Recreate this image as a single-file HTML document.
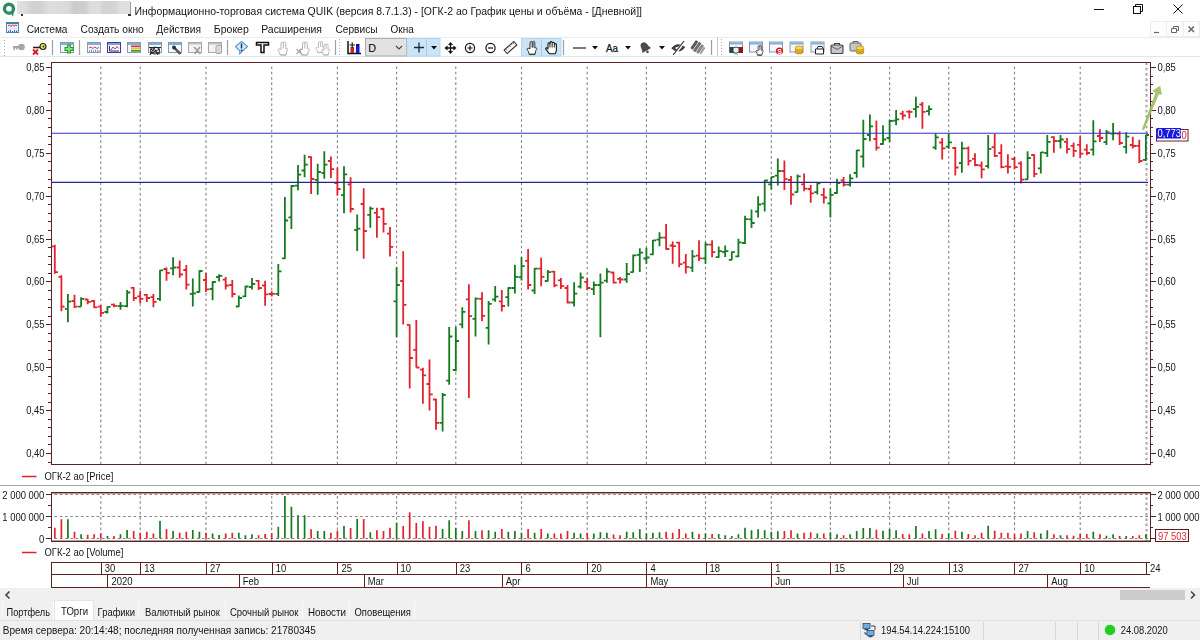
<!DOCTYPE html>
<html><head><meta charset="utf-8"><title>QUIK</title>
<style>
html,body{margin:0;padding:0;}
body{width:1200px;height:640px;overflow:hidden;background:#fff;position:relative;font-family:"Liberation Sans",sans-serif;color:#000;}
.abs{position:absolute;}
.t{position:absolute;white-space:nowrap;font-size:12px;line-height:14px;color:#111;}
.menu span{position:absolute;top:23px;font-size:12.5px;line-height:14px;white-space:nowrap;color:#111;}
.tab{position:absolute;top:601px;height:19px;font-size:11.5px;line-height:19px;text-align:center;color:#111;border-right:1px solid #fafafa;box-sizing:border-box;white-space:nowrap;}
.sep{position:absolute;top:41px;width:1px;height:14px;background:#b8b8b8;}
.sdiv{position:absolute;top:622px;width:1px;height:18px;background:#d8d8d8;}
</style></head><body>
<!-- title bar -->
<svg class="abs" style="left:0;top:0" width="20" height="20" viewBox="0 0 20 20"><circle cx="9" cy="8.7" r="4.5" fill="#fff" stroke="#2a8c63" stroke-width="3.4"/><path d="M10.5 12.8L12.9 16.8L14.2 10.5Z" fill="#2a8c63"/></svg>
<div class="abs" style="left:17px;top:1px;width:114px;height:13px;background:linear-gradient(90deg,#e2e2e2 0%,#dcdcdc 8%,#d0d0d0 14%,#d2d2d2 22%,#dedede 28%,#dadada 45%,#cccccc 50%,#cecece 60%,#dcdcdc 64%,#dedede 72%,#d2d2d2 76%,#d4d4d4 86%,#dedede 90%,#e0e0e0 100%);"></div>
<div class="abs" style="left:21px;top:14px;width:2px;height:2px;background:#334"></div>
<div class="abs" style="left:130px;top:2px;width:1px;height:13px;background:#9a9ab4"></div>
<div class="abs" style="left:128px;top:14px;width:3px;height:2px;background:#334"></div>
<svg class="abs" style="left:1080px;top:0" width="120" height="20" viewBox="0 0 120 20" fill="none" stroke="#111" stroke-width="1">
<path d="M14 9.5H24"/><rect x="53.5" y="6.5" width="7" height="7"/><path d="M55.5 6.5V4.5H62.5V11.5H60.5"/><path d="M93.5 4.5L102.5 13.5M102.5 4.5L93.5 13.5"/></svg>
<!-- menu bar -->
<svg class="abs" style="left:6px;top:22px" width="14" height="12" viewBox="0 0 14 12"><rect x="0.5" y="0.5" width="12" height="10" fill="#f2f6fb" stroke="#4a86b4"/><rect x="0.5" y="0.5" width="12" height="1.6" fill="#3f7fb0"/><path d="M2 4L3.5 3.2L5 4.4L6.5 3L8 4.2L9.5 3.2L11 3.8" stroke="#d02030" fill="none" stroke-width="1"/><path d="M2 6.5H11" stroke="#b8c8dc" stroke-width="0.6"/><path d="M2.5 10V8.5M4.5 10V8M6.5 10V9M8.5 10V8M10.5 10V8.5" stroke="#3a68b8" stroke-width="1.1"/></svg>
<div class="abs" style="left:1150px;top:21px;width:50px;height:16px;background:#fdfdfd;border:1px solid #ececec;box-sizing:border-box"></div>
<svg class="abs" style="left:1150px;top:21px" width="50" height="16" viewBox="0 0 50 16" fill="none" stroke="#5a6a78" stroke-width="1.2"><path d="M4 11.5H9"/><path d="M21.5 7.5H26.5V11.5H21.5ZM23.5 7.5V5.5H28.5V9.5H26.5" stroke-width="1"/><path d="M38.5 5.5L44 11M44 5.5L38.5 11" stroke-width="1.5"/><path d="M16.5 1V15M33.5 1V15" stroke="#ececec" stroke-width="1"/></svg>
<div class="abs" style="left:0;top:37px;width:1200px;height:1px;background:#e9edf1"></div>
<div class="abs" style="left:0;top:56px;width:1200px;height:1px;background:#dfe7ee"></div>
<svg class="abs" style="left:0;top:36px" width="1200" height="24" viewBox="0 36 1200 24" font-family="Liberation Sans, sans-serif">
<defs>
<g id="win"><rect x="0.5" y="0.5" width="13" height="10" fill="#f4f7fb" stroke="#8a98ac"/><rect x="1" y="1" width="12" height="2" fill="#7fb0dc"/></g>
<g id="wing"><rect x="0.5" y="0.5" width="13" height="10" fill="#f4f4f4" stroke="#a8a8a8"/><rect x="1" y="1" width="12" height="1.6" fill="#c4c4c4"/></g>
<g id="hand" fill="#fff" stroke-width="1" stroke-linejoin="round"><path d="M3.5 8V2.2Q3.5 0.7 4.7 0.7Q5.9 0.7 5.9 2.2V1.8Q5.9 0.5 7.1 0.5Q8.3 0.5 8.3 2V7.2Q9.8 6.4 10.3 7.6Q10.6 8.6 9.3 9.6L8.6 13.5H2.6L2 10.6Q0.4 9.2 0.6 8Q1 6.8 2.4 7.6Z"/><path d="M5.9 2V7M2.8 13.5H8.4"/></g>
<g id="coins"><ellipse cx="4" cy="6" rx="4" ry="2" fill="#e8b020" stroke="#a87808" stroke-width="0.6"/><ellipse cx="4" cy="4" rx="4" ry="2" fill="#f0c030" stroke="#a87808" stroke-width="0.6"/><ellipse cx="4" cy="2" rx="4" ry="2" fill="#f8d850" stroke="#a87808" stroke-width="0.6"/></g>
</defs>
<!-- grips -->
<path d="M4.5 40V56" stroke="#b0b0b0" stroke-width="1" stroke-dasharray="1 2"/>
<path d="M339.5 39V56M721.5 39V56" stroke="#b0b0b0" stroke-width="1" stroke-dasharray="1 2"/>
<!-- separators -->
<path d="M52.5 40V55M79.5 40V55M227.5 40V55M335.5 40V55M563.5 40V55M711.5 40V55" stroke="#a0a0a0" stroke-width="1.2"/>
<path d="M717.5 37V56" stroke="#c8c8c8" stroke-width="1"/>
<!-- gray key -->
<g fill="#a6a6a6"><circle cx="21.5" cy="47" r="3.3"/><rect x="13" y="46" width="7" height="2.2"/><rect x="13.5" y="48" width="1.5" height="2"/><rect x="16" y="48" width="1.5" height="1.6"/></g>
<!-- x key -->
<g><circle cx="43" cy="46.5" r="3" fill="#f2e85a" stroke="#222" stroke-width="1.1"/><circle cx="43.5" cy="46.5" r="0.9" fill="#222"/><path d="M33 47.5H40" stroke="#222" stroke-width="1.6"/><path d="M33 49.5L38 54.5M38 49.5L33 54.5" stroke="#d81818" stroke-width="1.8"/></g>
<!-- window + green plus -->
<g transform="translate(60,42)"><use href="#win"/><path d="M9 2.5V11.5M4.5 7H13.5" stroke="#239a23" stroke-width="3.8"/><path d="M9 3.5V10.5M5.5 7H12.5" stroke="#7ee66a" stroke-width="1.8"/></g>
<!-- icons 1-3 -->
<g transform="translate(87,42)"><use href="#win"/><path d="M2 6L4 5L6 6.5L8 5L10 6.5L12 5.5" stroke="#d02828" fill="none" stroke-width="0.9"/><path d="M2.5 10V8M4.5 10V7.5M6.5 10V8.5M8.5 10V7.5M10.5 10V8M12 10V8.5" stroke="#6f9ad0" stroke-width="1"/></g>
<g transform="translate(107,42)"><rect x="0.5" y="0.5" width="13" height="10" fill="#f4f7fb" stroke="#3a3aa0"/><rect x="1" y="1" width="12" height="2" fill="#7fa0dc"/><path d="M2.5 4V9H12" stroke="#2a2a90" fill="none"/><path d="M4 8L6 5L8 7L10 4.5L11.5 6.5" stroke="#d02828" fill="none" stroke-width="0.9"/></g>
<g transform="translate(127,42)"><use href="#win"/><rect x="4" y="3.5" width="9" height="1.7" fill="#d83030"/><rect x="4" y="5.8" width="9" height="1.7" fill="#e8c020"/><rect x="4" y="8" width="9" height="1.7" fill="#38a038"/></g>
<!-- icon 4 scribble -->
<g transform="translate(148,42)"><use href="#win"/><path d="M1 5.5H13M2 13L6 6L10 13M2 7L12 12M12 7L2 12M3 6.5Q7 3.5 11 6.5Q12 9 11 11Q7 13 3 11Q2 9 3 6.5" stroke="#222" fill="none" stroke-width="1"/></g>
<!-- icon 5 wrench -->
<g transform="translate(168,42)"><use href="#win"/><path d="M6 5.5L12.5 12" stroke="#333" stroke-width="2.4"/><circle cx="6" cy="5.5" r="2" fill="#333"/><path d="M7.5 7L12.5 12" stroke="#999" stroke-width="0.7"/></g>
<!-- icon 6 gray -->
<g transform="translate(188,42)"><use href="#wing"/><path d="M6 5L12.5 12M12 5L6.5 12" stroke="#a0a0a0" stroke-width="1.8"/></g>
<!-- icon 7 gray db -->
<g transform="translate(208,42)"><use href="#wing"/><rect x="8" y="3.5" width="5.5" height="8" rx="1.5" fill="#e8e8e8" stroke="#a0a0a0"/><path d="M9.5 6H12M9.5 8H12M9.5 10H12" stroke="#b0b0b0" stroke-width="0.8"/></g>
<!-- info bubble -->
<g><path d="M241.5 41.5L247.5 46.5L241.5 52L239.5 54L239.8 51L235.5 46.5Z" fill="#d8ecfa" stroke="#5a9ad0" stroke-width="1.1" stroke-linejoin="round"/><path d="M241.5 43.5V48.5" stroke="#1a3a6a" stroke-width="1.5"/><circle cx="241.5" cy="50.3" r="0.9" fill="#1a3a6a"/></g>
<!-- T -->
<path d="M256.5 42.5H268.5V45H264V52.5H261V45H256.5Z" fill="#fff" stroke="#111" stroke-width="1.5"/>
<!-- gray hands -->
<g transform="translate(277.5,41.5)" stroke="#b4b4b4"><use href="#hand"/></g>
<g transform="translate(299,41.5)" stroke="#b4b4b4"><use href="#hand"/></g>
<path d="M296.5 49L301.5 54M301.5 49L296.5 54" stroke="#a8a8a8" stroke-width="1.4"/>
<g transform="translate(315.5,41) scale(0.85)" stroke="#b4b4b4"><use href="#hand"/></g>
<g transform="translate(321,43.5) scale(0.85)" stroke="#b4b4b4"><use href="#hand"/></g>
<!-- chart icon -->
<g><path d="M348 41V53.5H361" stroke="#111" fill="none" stroke-width="1.5"/><rect x="350.5" y="47" width="3.5" height="6" fill="#d02020"/><rect x="356" y="44" width="3.5" height="9" fill="#1818d0"/><path d="M349.5 45H355M352.2 42.3V47.7" stroke="#111" stroke-width="1.1"/><path d="M356 45H359" stroke="#111" stroke-width="1"/></g>
<!-- dropdown -->
<rect x="365.5" y="38.5" width="41" height="17.5" fill="#e1e1e1" stroke="#adadad"/>
<text x="368.3" y="51.5" font-size="10.8" fill="#000">D</text>
<path d="M396 46L399 49L402 46" stroke="#444" fill="none" stroke-width="1.1"/>
<!-- plus button -->
<rect x="407" y="38.5" width="33" height="17.5" fill="#cce4f7" stroke="#b4d6f2" stroke-width="1"/>
<path d="M426.5 39V56" stroke="#a8cce8" stroke-width="1"/>
<path d="M414 47.5H424M419 42.5V52.5" stroke="#1a2a3a" stroke-width="1.3"/>
<path d="M431 46H437L434 49.5Z" fill="#111"/>
<!-- move icon -->
<g stroke="#111" stroke-width="1.3" fill="#111"><path d="M450.5 44V52M446.5 48H454.5" fill="none"/><path d="M450.5 42.3L452.5 44.8H448.5ZM450.5 53.7L452.5 51.2H448.5ZM444.8 48L447.3 46V50ZM456.2 48L453.7 46V50Z" stroke-width="0.6"/></g>
<!-- zoom +/- -->
<g stroke="#111" fill="none" stroke-width="1.2"><circle cx="470" cy="48" r="4.6"/><path d="M467.5 48H472.5M470 45.5V50.5"/><circle cx="490.5" cy="48" r="4.6"/><path d="M488 48H493"/></g>
<!-- ruler -->
<g transform="translate(510.5,47.5) rotate(-42)"><rect x="-6.5" y="-2.3" width="13" height="4.6" fill="#fff" stroke="#333" stroke-width="1.1"/><path d="M-4.5 -2.5V0M-2 -2.5V-0.5M0.5 -2.5V0M3 -2.5V-0.5M5 -2.5V0" stroke="#555" stroke-width="0.7"/></g>
<!-- highlighted hands -->
<rect x="521.5" y="38.5" width="39.5" height="17.5" fill="#cce4f7" stroke="#b4d6f2" stroke-width="1"/>
<path d="M541.5 39V56" stroke="#a8cce8" stroke-width="1"/>
<g transform="translate(526.5,40.8)" stroke="#333"><use href="#hand"/><path d="M4.3 1.5V6.5M7 1.5V6.5" stroke="#888" stroke-width="1.4"/></g>
<g transform="translate(545,41)" stroke="#111" fill="#fff" stroke-width="1.1" stroke-linejoin="round"><path d="M3 8V3Q3 1.8 4 1.8Q5 1.8 5 3V1.8Q5 0.6 6.1 0.6Q7.2 0.6 7.2 1.8V2.2Q7.2 1.2 8.3 1.2Q9.4 1.2 9.4 2.4V3.4Q9.4 2.6 10.4 2.6Q11.4 2.6 11.4 3.8V9Q11.4 11 10 12.8H4.5L0.8 8.2Q0.5 7 1.5 6.8Q2.3 6.8 3 8Z"/><path d="M5 2.5V6.5M7.2 2.5V6.5M9.4 3.5V6.5" stroke="#555" stroke-width="1.3"/></g>
<!-- line style -->
<path d="M573 48H586" stroke="#333" stroke-width="1.3"/>
<path d="M592 46H598L595 49.5Z" fill="#111"/>
<text x="606" y="51.6" font-size="10.6" fill="#111" stroke="#111" stroke-width="0.25" textLength="12" lengthAdjust="spacingAndGlyphs">Aa</text>
<path d="M625 46H631L628 49.5Z" fill="#111"/>
<!-- bell -->
<g transform="translate(645,47.5) rotate(-30)" fill="#4a4a4a"><path d="M-5 3.5Q-3.5 1 -3.5 -2Q-3 -5.5 0 -5.5Q3 -5.5 3.5 -2Q3.5 1 5 3.5Z"/><circle cx="0" cy="5" r="1.3"/></g>
<path d="M659 46H665L662 49.5Z" fill="#111"/>
<!-- eye slash -->
<g><path d="M671.3 48.2Q677.5 41 685.2 47Q679 55.5 671.3 48.2Z" fill="#3a3a3a"/><path d="M674.8 48Q678 45.2 681.8 47.3Q678.5 51 674.8 48Z" fill="#fff"/><path d="M684.8 40.8L674 55.2" stroke="#fff" stroke-width="2.6"/><path d="M684 41.2L673.2 54.8" stroke="#3a3a3a" stroke-width="1.1"/></g>
<!-- layers -->
<g transform="translate(698,47.5) rotate(35)" fill="#5a5a5a"><rect x="-6" y="-5" width="3" height="10" rx="0.8"/><rect x="-2.5" y="-5.5" width="3" height="11" rx="0.8" fill="#707070"/><rect x="1" y="-5" width="3" height="10" rx="0.8" fill="#888"/><rect x="4.3" y="-4" width="2.2" height="8" rx="0.8" fill="#a0a0a0"/></g>
<!-- handshake window -->
<g transform="translate(729,41.5)"><use href="#win"/><path d="M0.5 5.5H4.5V11.5H0.5Z" fill="#1a4a5a"/><path d="M9.5 5.5H14V11.5H9.5Z" fill="#8a1a1a"/><path d="M4 6.5Q7 4.5 10 6.5L10 10.5Q7 13 4 10.5Z" fill="#f0f0f0" stroke="#333" stroke-width="0.9"/><path d="M5 12L6 13M7.5 12.3L8.5 13.3" stroke="#333" stroke-width="0.8"/></g>
<!-- window + hand -->
<g transform="translate(749,41.5)"><use href="#win"/><g transform="translate(6.5,3.5) scale(0.750)" stroke="#222"><use href="#hand"/></g></g>
<!-- window + red circle -->
<g transform="translate(769,41.5)"><use href="#win"/><circle cx="10.5" cy="9.5" r="3.6" fill="#d81828"/><text x="8.5" y="12" font-size="6.5" fill="#fff" font-weight="bold">S</text></g>
<!-- window + coins -->
<g transform="translate(789.5,41.5)"><use href="#win"/><g transform="translate(5.5,4.5)"><use href="#coins"/></g></g>
<!-- window + box -->
<g transform="translate(810.5,41.5)"><use href="#win"/><path d="M5 7.5H13V12.5H5ZM6.5 7.5L7.5 5H11.5L13 7.5" fill="#fff" stroke="#222" stroke-width="1" stroke-linejoin="round"/></g>
<!-- briefcase -->
<g transform="translate(830.5,43)"><rect x="0.5" y="2" width="12" height="8.5" rx="1" fill="#c4c8cc" stroke="#444" stroke-width="1.1"/><path d="M4 2V0.5H9V2" fill="none" stroke="#444" stroke-width="1.1"/><path d="M0.5 3L6.5 6.5L12.5 3" fill="none" stroke="#555" stroke-width="0.9"/></g>
<!-- briefcase + coins -->
<g transform="translate(849.5,41)"><rect x="0.5" y="2" width="11" height="8" rx="1" fill="#c4c8cc" stroke="#666" stroke-width="1"/><path d="M3.5 2V0.5H8.5V2" fill="none" stroke="#666" stroke-width="1"/><g transform="translate(6.5,5)"><use href="#coins"/></g></g>
</svg>
<svg width="1200" height="640" viewBox="0 0 1200 640" style="position:absolute;left:0;top:0;will-change:transform;opacity:0.999" font-family="Liberation Sans, sans-serif">
<rect x="0" y="485" width="1200" height="1" fill="#a8a8a8"/>
<path d="M100.8 66.5V464.5 M140.2 66.5V464.5 M206.0 66.5V464.5 M271.7 66.5V464.5 M337.4 66.5V464.5 M396.6 66.5V464.5 M455.8 66.5V464.5 M521.5 66.5V464.5 M587.2 66.5V464.5 M646.4 66.5V464.5 M705.5 66.5V464.5 M771.3 66.5V464.5 M830.4 66.5V464.5 M889.6 66.5V464.5 M948.7 66.5V464.5 M1014.5 66.5V464.5 M1080.2 66.5V464.5" stroke="#848484" stroke-width="1.1" stroke-dasharray="2.6 2.67" fill="none"/>
<path d="M1146.5 62.5V464.5M1146.5 492V541" stroke="#a6a6a6" stroke-width="2" stroke-dasharray="2.6 2.67" fill="none"/>
<path d="M100.8 496V541.5 M140.2 496V541.5 M206.0 496V541.5 M271.7 496V541.5 M337.4 496V541.5 M396.6 496V541.5 M455.8 496V541.5 M521.5 496V541.5 M587.2 496V541.5 M646.4 496V541.5 M705.5 496V541.5 M771.3 496V541.5 M830.4 496V541.5 M889.6 496V541.5 M948.7 496V541.5 M1014.5 496V541.5 M1080.2 496V541.5 M54.5 494.5H1150.5 M54.5 516.5H1150.5 M54.5 538.5H1150.5" stroke="#848484" stroke-width="1.1" stroke-dasharray="2.6 2.67" fill="none"/>
<rect x="51.5" y="62.5" width="1099.0" height="402.0" fill="none" stroke="#5a2222" stroke-width="1" shape-rendering="crispEdges"/>
<rect x="51.5" y="492.5" width="1099.0" height="49" fill="none" stroke="#5a2222" stroke-width="1" shape-rendering="crispEdges"/>
<path d="M51.5 493.5H1150.5M51.5 540.5H1150.5" stroke="#5a2222" stroke-width="1" opacity="0.45" shape-rendering="crispEdges"/>
<path d="M45.5 67.5H51.5M1150.5 67.5H1155.5 M48.0 76.5H51.5M1150.5 76.5H1152.5 M48.0 84.5H51.5M1150.5 84.5H1152.5 M48.0 93.5H51.5M1150.5 93.5H1152.5 M48.0 101.5H51.5M1150.5 101.5H1152.5 M45.5 110.5H51.5M1150.5 110.5H1155.5 M48.0 118.5H51.5M1150.5 118.5H1152.5 M48.0 127.5H51.5M1150.5 127.5H1152.5 M48.0 136.5H51.5M1150.5 136.5H1152.5 M48.0 144.5H51.5M1150.5 144.5H1152.5 M45.5 153.5H51.5M1150.5 153.5H1155.5 M48.0 161.5H51.5M1150.5 161.5H1152.5 M48.0 170.5H51.5M1150.5 170.5H1152.5 M48.0 179.5H51.5M1150.5 179.5H1152.5 M48.0 187.5H51.5M1150.5 187.5H1152.5 M45.5 196.5H51.5M1150.5 196.5H1155.5 M48.0 204.5H51.5M1150.5 204.5H1152.5 M48.0 213.5H51.5M1150.5 213.5H1152.5 M48.0 221.5H51.5M1150.5 221.5H1152.5 M48.0 230.5H51.5M1150.5 230.5H1152.5 M45.5 239.5H51.5M1150.5 239.5H1155.5 M48.0 247.5H51.5M1150.5 247.5H1152.5 M48.0 256.5H51.5M1150.5 256.5H1152.5 M48.0 264.5H51.5M1150.5 264.5H1152.5 M48.0 273.5H51.5M1150.5 273.5H1152.5 M45.5 281.5H51.5M1150.5 281.5H1155.5 M48.0 290.5H51.5M1150.5 290.5H1152.5 M48.0 299.5H51.5M1150.5 299.5H1152.5 M48.0 307.5H51.5M1150.5 307.5H1152.5 M48.0 316.5H51.5M1150.5 316.5H1152.5 M45.5 324.5H51.5M1150.5 324.5H1155.5 M48.0 333.5H51.5M1150.5 333.5H1152.5 M48.0 341.5H51.5M1150.5 341.5H1152.5 M48.0 350.5H51.5M1150.5 350.5H1152.5 M48.0 359.5H51.5M1150.5 359.5H1152.5 M45.5 367.5H51.5M1150.5 367.5H1155.5 M48.0 376.5H51.5M1150.5 376.5H1152.5 M48.0 384.5H51.5M1150.5 384.5H1152.5 M48.0 393.5H51.5M1150.5 393.5H1152.5 M48.0 402.5H51.5M1150.5 402.5H1152.5 M45.5 410.5H51.5M1150.5 410.5H1155.5 M48.0 419.5H51.5M1150.5 419.5H1152.5 M48.0 427.5H51.5M1150.5 427.5H1152.5 M48.0 436.5H51.5M1150.5 436.5H1152.5 M48.0 444.5H51.5M1150.5 444.5H1152.5 M45.5 453.5H51.5M1150.5 453.5H1155.5 M48.0 462.5H51.5M1150.5 462.5H1152.5 M45.5 494.5H51.5M1150.5 494.5H1155.5 M48.0 505.5H51.5M1150.5 505.5H1152.5 M45.5 516.5H51.5M1150.5 516.5H1155.5 M48.0 527.5H51.5M1150.5 527.5H1152.5 M45.5 538.5H51.5M1150.5 538.5H1155.5" stroke="#5a2222" stroke-width="1" fill="none" shape-rendering="crispEdges"/>
<text transform="translate(44.5,71.0) scale(0.9,1)" font-size="10.5" text-anchor="end" fill="#151515">0,85</text>
<text transform="translate(1157.5,71.0) scale(0.9,1)" font-size="10.5" text-anchor="start" fill="#151515">0,85</text>
<text transform="translate(44.5,113.9) scale(0.9,1)" font-size="10.5" text-anchor="end" fill="#151515">0,80</text>
<text transform="translate(1157.5,113.9) scale(0.9,1)" font-size="10.5" text-anchor="start" fill="#151515">0,80</text>
<text transform="translate(44.5,156.8) scale(0.9,1)" font-size="10.5" text-anchor="end" fill="#151515">0,75</text>
<text transform="translate(1157.5,156.8) scale(0.9,1)" font-size="10.5" text-anchor="start" fill="#151515">0,75</text>
<text transform="translate(44.5,199.7) scale(0.9,1)" font-size="10.5" text-anchor="end" fill="#151515">0,70</text>
<text transform="translate(1157.5,199.7) scale(0.9,1)" font-size="10.5" text-anchor="start" fill="#151515">0,70</text>
<text transform="translate(44.5,242.6) scale(0.9,1)" font-size="10.5" text-anchor="end" fill="#151515">0,65</text>
<text transform="translate(1157.5,242.6) scale(0.9,1)" font-size="10.5" text-anchor="start" fill="#151515">0,65</text>
<text transform="translate(44.5,285.4) scale(0.9,1)" font-size="10.5" text-anchor="end" fill="#151515">0,60</text>
<text transform="translate(1157.5,285.4) scale(0.9,1)" font-size="10.5" text-anchor="start" fill="#151515">0,60</text>
<text transform="translate(44.5,328.3) scale(0.9,1)" font-size="10.5" text-anchor="end" fill="#151515">0,55</text>
<text transform="translate(1157.5,328.3) scale(0.9,1)" font-size="10.5" text-anchor="start" fill="#151515">0,55</text>
<text transform="translate(44.5,371.2) scale(0.9,1)" font-size="10.5" text-anchor="end" fill="#151515">0,50</text>
<text transform="translate(1157.5,371.2) scale(0.9,1)" font-size="10.5" text-anchor="start" fill="#151515">0,50</text>
<text transform="translate(44.5,414.1) scale(0.9,1)" font-size="10.5" text-anchor="end" fill="#151515">0,45</text>
<text transform="translate(1157.5,414.1) scale(0.9,1)" font-size="10.5" text-anchor="start" fill="#151515">0,45</text>
<text transform="translate(44.5,457.0) scale(0.9,1)" font-size="10.5" text-anchor="end" fill="#151515">0,40</text>
<text transform="translate(1157.5,457.0) scale(0.9,1)" font-size="10.5" text-anchor="start" fill="#151515">0,40</text>
<text transform="translate(44.3,498.5) scale(0.9,1)" font-size="10.5" text-anchor="end" fill="#151515">2 000 000</text>
<text transform="translate(44.3,520.5) scale(0.9,1)" font-size="10.5" text-anchor="end" fill="#151515">1 000 000</text>
<text transform="translate(44.3,542.5) scale(0.9,1)" font-size="10.5" text-anchor="end" fill="#151515">0</text>
<text transform="translate(1157.5,498.5) scale(0.9,1)" font-size="10.5" text-anchor="start" fill="#151515">2 000 000</text>
<text transform="translate(1157.5,520.5) scale(0.9,1)" font-size="10.5" text-anchor="start" fill="#151515">1 000 000</text>
<path d="M54.8 244.8V273.8M51.8 246.4H54.8M54.8 272.2H58.0 M61.4 275.3V311.2M58.4 276.9H61.4M61.4 306.6H64.6 M74.5 294.8V308.0M71.5 301.0H74.5M74.5 306.6H77.7 M87.7 298.8V304.2M84.7 299.5H87.7M87.7 301.9H90.9 M94.2 300.3V308.0M91.2 301.0H94.2M94.2 307.3H97.4 M100.8 305.0V316.7M97.8 306.6H100.8M100.8 312.8H104.0 M114.0 303.4V307.3M111.0 304.7H114.0M114.0 305.8H117.2 M133.7 287.0V301.0M130.7 287.8H133.7M133.7 298.0H136.9 M140.2 291.0V303.4M137.2 296.4H140.2M140.2 298.8H143.4 M146.8 294.0V301.9M143.8 294.8H146.8M146.8 298.0H150.0 M153.4 294.0V307.3M150.4 297.2H153.4M153.4 301.9H156.6 M166.5 267.5V280.8M163.5 269.0H166.5M166.5 273.0H169.7 M179.7 260.5V277.7M176.7 267.5H179.7M179.7 274.5H182.9 M186.3 265.0V289.4M183.3 270.0H186.3M186.3 284.7H189.5 M206.0 273.0V292.0M203.0 280.0H206.0M206.0 289.4H209.2 M225.7 277.0V289.4M222.7 279.7H225.7M225.7 285.5H228.9 M232.3 280.0V297.5M229.3 285.0H232.3M232.3 294.0H235.5 M258.6 280.0V290.0M255.6 280.8H258.6M258.6 288.0H261.8 M265.1 280.8V305.8M262.1 285.5H265.1M265.1 294.4H268.3 M271.7 291.2V296.4M268.7 294.0H271.7M271.7 293.8H274.9 M311.1 156.4V194.0M308.1 157.0H311.1M311.1 179.0H314.3 M330.9 156.4V178.0M327.9 161.0H330.9M330.9 169.2H334.1 M337.4 167.5V195.4M334.4 183.0H337.4M337.4 189.0H340.6 M350.6 177.3V212.5M347.6 184.4H350.6M350.6 209.0H353.8 M363.7 188.3V258.8M360.7 204.0H363.7M363.7 231.0H366.9 M376.9 207.8V237.8M373.9 212.8H376.9M376.9 217.2H380.1 M383.5 207.8V232.5M380.5 209.0H383.5M383.5 223.8H386.7 M390.0 226.9V256.4M387.0 233.6H390.0M390.0 246.9H393.2 M403.2 251.2V324.4M400.2 281.0H403.2M403.2 304.8H406.4 M409.7 324.4V388.6M406.7 324.8H409.7M409.7 358.0H412.9 M416.3 320.0V367.5M413.3 349.8H416.3M416.3 367.5H419.5 M422.9 367.8V403.8M419.9 369.7H422.9M422.9 375.3H426.1 M429.5 359.5V410.5M426.5 384.0H429.5M429.5 394.4H432.7 M436.0 398.8V429.8M433.0 399.5H436.0M436.0 422.8H439.2 M468.9 284.2V398.0M465.9 299.4H468.9M468.9 316.2H472.1 M482.0 292.3V321.2M479.0 298.9H482.0M482.0 315.8H485.2 M501.8 290.0V311.6M498.8 301.4H501.8M501.8 306.0H505.0 M528.1 249.0V289.4M525.1 260.8H528.1M528.1 285.0H531.3 M541.2 257.7V286.2M538.2 268.6H541.2M541.2 276.9H544.4 M554.3 271.0V287.3M551.3 271.7H554.3M554.3 285.3H557.5 M560.9 278.0V289.0M557.9 280.3H560.9M560.9 286.2H564.1 M567.5 285.0V303.4M564.5 288.0H567.5M567.5 302.5H570.7 M587.2 278.0V290.0M584.2 281.9H587.2M587.2 288.0H590.4 M613.5 271.7V283.4M610.5 272.5H613.5M613.5 282.7H616.7 M620.1 276.9V283.4M617.1 278.8H620.1M620.1 279.5H623.3 M666.1 224.0V249.7M663.1 237.7H666.1M666.1 249.0H669.3 M672.7 241.6V263.8M669.7 245.5H672.7M672.7 246.2H675.9 M679.2 241.9V267.3M676.2 242.7H679.2M679.2 264.2H682.4 M685.8 254.0V273.6M682.8 262.7H685.8M685.8 266.9H689.0 M699.0 240.3V261.0M696.0 255.6H699.0M699.0 258.3H702.2 M712.1 240.3V257.2M709.1 244.7H712.1M712.1 252.2H715.3 M784.4 160.5V190.0M781.4 171.0H784.4M784.4 179.2H787.6 M791.0 176.0V204.7M788.0 180.0H791.0M791.0 194.5H794.2 M804.1 173.4V191.2M801.1 184.4H804.1M804.1 188.6H807.3 M810.7 185.0V202.7M807.7 189.0H810.7M810.7 193.3H813.9 M823.8 188.0V203.4M820.8 194.8H823.8M823.8 197.5H827.0 M843.6 176.9V186.6M840.6 180.3H843.6M843.6 184.7H846.8 M876.4 120.6V150.6M873.4 139.0H876.4M876.4 147.7H879.6 M902.7 110.8V119.7M899.7 113.6H902.7M902.7 115.5H905.9 M909.3 110.3V118.6M906.3 111.6H909.3M909.3 111.9H912.5 M922.4 101.9V128.8M919.4 104.5H922.4M922.4 111.9H925.6 M942.2 138.0V159.5M939.2 142.5H942.2M942.2 148.3H945.4 M955.3 147.0V175.6M952.3 148.0H955.3M955.3 167.5H958.5 M968.4 146.4V165.5M965.4 148.3H968.4M968.4 160.8H971.6 M975.0 153.3V166.2M972.0 158.8H975.0M975.0 165.0H978.2 M981.6 161.6V178.3M978.6 165.5H981.6M981.6 169.4H984.8 M994.7 133.7V157.0M991.7 147.2H994.7M994.7 155.9H997.9 M1001.3 144.2V168.3M998.3 153.0H1001.3M1001.3 167.2H1004.5 M1007.9 154.2V173.4M1004.9 166.4H1007.9M1007.9 166.9H1011.1 M1014.5 157.0V169.2M1011.5 159.0H1014.5M1014.5 167.2H1017.7 M1021.0 161.2V183.6M1018.0 163.3H1021.0M1021.0 179.7H1024.2 M1034.2 154.2V177.3M1031.2 155.0H1034.2M1034.2 173.8H1037.4 M1053.9 136.2V152.8M1050.9 137.2H1053.9M1053.9 141.0H1057.1 M1067.0 138.0V153.6M1064.0 141.9H1067.0M1067.0 149.2H1070.2 M1073.6 142.5V157.0M1070.6 145.8H1073.6M1073.6 150.8H1076.8 M1080.2 136.2V157.8M1077.2 144.8H1080.2M1080.2 153.6H1083.4 M1086.8 144.2V155.2M1083.8 149.7H1086.8M1086.8 153.0H1090.0 M1099.9 129.2V141.9M1096.9 136.0H1099.9M1099.9 138.0H1103.1 M1119.6 131.2V145.0M1116.6 133.6H1119.6M1119.6 143.0H1122.8 M1132.8 136.7V148.4M1129.8 145.0H1132.8M1132.8 146.0H1136.0 M1139.3 139.8V163.3M1136.3 145.8H1139.3M1139.3 161.0H1142.5" stroke="#e3222e" stroke-width="1.8" fill="none"/>
<path d="M67.9 294.0V322.2M64.9 308.9H67.9M67.9 301.6H71.1 M81.1 297.2V306.6M78.1 306.6H81.1M81.1 298.8H84.3 M107.4 306.6V313.6M104.4 312.0H107.4M107.4 306.9H110.6 M120.5 301.9V309.7M117.5 306.2H120.5M120.5 305.8H123.7 M127.1 290.0V307.3M124.1 306.2H127.1M127.1 292.5H130.3 M160.0 269.8V301.0M157.0 298.8H160.0M160.0 270.3H163.2 M173.1 257.3V275.3M170.1 268.3H173.1M173.1 267.5H176.3 M192.8 278.4V306.6M189.8 293.8H192.8M192.8 293.3H196.0 M199.4 270.3V292.5M196.4 292.0H199.4M199.4 271.0H202.6 M212.6 281.2V300.3M209.6 289.0H212.6M212.6 282.0H215.8 M219.1 274.2V281.5M216.1 277.0H219.1M219.1 275.8H222.3 M238.8 295.6V307.0M235.8 306.5H238.8M238.8 298.0H242.0 M245.4 285.8V297.0M242.4 296.4H245.4M245.4 286.5H248.6 M252.0 278.0V289.4M249.0 287.0H252.0M252.0 284.0H255.2 M278.3 264.0V296.0M275.3 293.8H278.3M278.3 271.4H281.5 M284.9 197.0V259.0M281.9 258.4H284.9M284.9 220.5H288.1 M291.4 185.3V229.0M288.4 217.3H291.4M291.4 186.0H294.6 M298.0 165.0V190.3M295.0 185.6H298.0M298.0 174.7H301.2 M304.6 154.8V177.2M301.6 170.5H304.6M304.6 164.7H307.8 M317.7 163.8V194.7M314.7 179.8H317.7M317.7 172.0H320.9 M324.3 151.2V178.8M321.3 172.8H324.3M324.3 164.7H327.5 M344.0 166.3V213.2M341.0 195.2H344.0M344.0 174.4H347.2 M357.2 214.4V251.0M354.2 230.0H357.2M357.2 228.6H360.4 M370.3 206.6V227.8M367.3 214.8H370.3M370.3 208.6H373.5 M396.6 267.3V336.9M393.6 301.4H396.6M396.6 285.0H399.8 M442.6 393.0V431.5M439.6 422.8H442.6M442.6 395.0H445.8 M449.2 327.0V384.7M446.2 380.6H449.2M449.2 336.5H452.4 M455.8 326.7V371.2M452.8 370.0H455.8M455.8 341.0H459.0 M462.3 307.2V328.3M459.3 324.4H462.3M462.3 311.9H465.5 M475.5 297.5V336.4M472.5 318.9H475.5M475.5 298.6H478.7 M488.6 301.0V344.4M485.6 327.8H488.6M488.6 303.8H491.8 M495.2 286.0V301.8M492.2 299.5H495.2M495.2 296.6H498.4 M508.3 287.3V306.6M505.3 297.2H508.3M508.3 288.0H511.5 M514.9 264.7V293.6M511.9 288.0H514.9M514.9 276.9H518.1 M521.5 257.3V280.6M518.5 277.2H521.5M521.5 266.2H524.7 M534.6 268.0V294.0M531.6 290.5H534.6M534.6 268.6H537.8 M547.8 270.0V281.6M544.8 281.0H547.8M547.8 272.2H551.0 M574.1 282.3V306.6M571.1 302.5H574.1M574.1 293.6H577.3 M580.6 272.5V288.6M577.6 286.6H580.6M580.6 277.5H583.8 M593.8 281.4V295.0M590.8 289.2H593.8M593.8 285.0H597.0 M600.4 273.5V337.3M597.4 285.0H600.4M600.4 282.7H603.6 M606.9 268.3V282.7M603.9 280.6H606.9M606.9 271.7H610.1 M626.7 263.0V282.7M623.7 279.5H626.7M626.7 274.0H629.9 M633.2 254.5V272.5M630.2 272.2H633.2M633.2 255.3H636.4 M639.8 248.3V272.0M636.8 254.8H639.8M639.8 252.7H643.0 M646.4 247.7V263.7M643.4 258.5H646.4M646.4 257.5H649.6 M652.9 240.0V255.3M649.9 254.4H652.9M652.9 240.3H656.1 M659.5 232.2V246.2M656.5 239.7H659.5M659.5 237.7H662.7 M692.4 250.0V272.0M689.4 267.7H692.4M692.4 256.4H695.6 M705.5 242.3V263.8M702.5 258.3H705.5M705.5 244.7H708.7 M718.7 246.6V257.7M715.7 257.2H718.7M718.7 251.2H721.9 M725.2 245.5V256.9M722.2 252.0H725.2M725.2 251.2H728.4 M731.8 251.2V260.3M728.8 259.8H731.8M731.8 252.2H735.0 M738.4 238.8V257.2M735.4 256.4H738.4M738.4 242.3H741.6 M745.0 215.8V244.0M742.0 243.0H745.0M745.0 219.2H748.2 M751.5 209.5V228.0M748.5 219.4H751.5M751.5 223.0H754.7 M758.1 196.3V217.4M755.1 211.5H758.1M758.1 204.5H761.3 M764.7 180.0V211.4M761.7 203.7H764.7M764.7 180.5H767.9 M771.3 176.9V189.4M768.3 184.4H771.3M771.3 176.9H774.5 M777.8 158.4V185.5M774.8 175.6H777.8M777.8 171.0H781.0 M797.5 174.5V192.5M794.5 192.2H797.5M797.5 176.4H800.7 M817.3 182.8V194.4M814.3 192.2H817.3M817.3 183.4H820.5 M830.4 188.6V217.5M827.4 203.4H830.4M830.4 194.8H833.6 M837.0 178.8V193.8M834.0 193.0H837.0M837.0 183.0H840.2 M850.1 174.2V186.6M847.1 184.7H850.1M850.1 178.4H853.3 M856.7 150.0V177.8M853.7 173.0H856.7M856.7 150.3H859.9 M863.3 119.7V167.5M860.3 156.5H863.3M863.3 139.0H866.5 M869.9 114.4V141.2M866.9 135.0H869.9M869.9 126.4H873.1 M883.0 125.3V144.7M880.0 144.0H883.0M883.0 139.5H886.2 M889.6 119.7V142.0M886.6 138.0H889.6M889.6 121.0H892.8 M896.1 110.0V125.3M893.1 120.6H896.1M896.1 119.4H899.3 M915.9 96.7V117.5M912.9 109.2H915.9M915.9 106.9H919.1 M929.0 105.6V115.5M926.0 111.2H929.0M929.0 109.2H932.2 M935.6 133.4V149.8M932.6 147.5H935.6M935.6 137.3H938.8 M948.7 133.4V148.8M945.7 146.7H948.7M948.7 142.3H951.9 M961.9 141.7V172.8M958.9 163.0H961.9M961.9 148.3H965.1 M988.2 135.0V168.6M985.2 166.2H988.2M988.2 148.8H991.4 M1027.6 151.2V179.7M1024.6 179.4H1027.6M1027.6 158.0H1030.8 M1040.8 152.0V173.4M1037.8 168.4H1040.8M1040.8 152.3H1044.0 M1047.3 135.0V157.0M1044.3 153.0H1047.3M1047.3 141.9H1050.5 M1060.5 135.0V148.4M1057.5 141.0H1060.5M1060.5 139.5H1063.7 M1093.3 120.3V155.5M1090.3 149.7H1093.3M1093.3 141.4H1096.5 M1106.5 130.0V145.0M1103.5 142.2H1106.5M1106.5 132.5H1109.7 M1113.1 123.0V140.3M1110.1 133.6H1113.1M1113.1 133.3H1116.3 M1126.2 132.3V153.6M1123.2 146.9H1126.2M1126.2 136.7H1129.4 M1145.9 135.0V161.0M1142.9 159.8H1145.9M1145.9 135.0H1149.1" stroke="#157a20" stroke-width="1.8" fill="none"/>
<path d="M54.8 527.7V538.5 M61.4 519.3V538.5 M74.5 531.8V538.5 M87.7 534.8V538.5 M94.2 534.3V538.5 M100.8 533.5V538.5 M114.0 536.0V538.5 M133.7 531.0V538.5 M140.2 532.7V538.5 M146.8 531.8V538.5 M153.4 533.5V538.5 M166.5 529.0V538.5 M179.7 532.7V538.5 M186.3 531.8V538.5 M206.0 532.7V538.5 M225.7 533.5V538.5 M232.3 532.7V538.5 M258.6 535.2V538.5 M265.1 534.0V538.5 M271.7 533.2V538.5 M311.1 529.3V538.5 M330.9 532.7V538.5 M337.4 530.7V538.5 M350.6 528.0V538.5 M363.7 519.0V538.5 M376.9 530.2V538.5 M383.5 531.0V538.5 M390.0 527.7V538.5 M403.2 526.0V538.5 M409.7 512.3V538.5 M416.3 523.0V538.5 M422.9 521.2V538.5 M429.5 526.8V538.5 M436.0 525.7V538.5 M468.9 520.2V538.5 M482.0 530.2V538.5 M501.8 529.0V538.5 M528.1 529.0V538.5 M541.2 529.0V538.5 M554.3 533.5V538.5 M560.9 533.5V538.5 M567.5 531.0V538.5 M587.2 532.7V538.5 M613.5 534.5V538.5 M620.1 535.2V538.5 M666.1 531.8V538.5 M672.7 532.7V538.5 M679.2 529.0V538.5 M685.8 533.5V538.5 M699.0 534.0V538.5 M712.1 534.0V538.5 M784.4 531.0V538.5 M791.0 530.2V538.5 M804.1 532.7V538.5 M810.7 532.3V538.5 M823.8 533.5V538.5 M843.6 535.2V538.5 M876.4 529.7V538.5 M902.7 534.0V538.5 M909.3 534.3V538.5 M922.4 533.5V538.5 M942.2 534.0V538.5 M955.3 530.7V538.5 M968.4 534.0V538.5 M975.0 535.2V538.5 M981.6 532.7V538.5 M994.7 530.7V538.5 M1001.3 532.7V538.5 M1007.9 532.7V538.5 M1014.5 534.3V538.5 M1021.0 533.5V538.5 M1034.2 532.3V538.5 M1053.9 534.3V538.5 M1067.0 535.2V538.5 M1073.6 535.7V538.5 M1080.2 534.0V538.5 M1086.8 534.0V538.5 M1099.9 534.3V538.5 M1119.6 536.0V538.5 M1132.8 536.0V538.5 M1139.3 535.2V538.5" stroke="#e3222e" stroke-width="1.7" fill="none"/>
<path d="M67.9 519.3V538.5 M81.1 534.3V538.5 M107.4 536.0V538.5 M120.5 534.3V538.5 M127.1 530.0V538.5 M160.0 521.0V538.5 M173.1 531.0V538.5 M192.8 530.0V538.5 M199.4 531.8V538.5 M212.6 533.5V538.5 M219.1 535.0V538.5 M238.8 532.7V538.5 M245.4 535.2V538.5 M252.0 534.3V538.5 M278.3 526.8V538.5 M284.9 496.0V538.5 M291.4 506.8V538.5 M298.0 515.2V538.5 M304.6 515.2V538.5 M317.7 531.0V538.5 M324.3 531.0V538.5 M344.0 526.0V538.5 M357.2 519.0V538.5 M370.3 532.3V538.5 M396.6 523.0V538.5 M442.6 529.0V538.5 M449.2 520.2V538.5 M455.8 528.0V538.5 M462.3 531.0V538.5 M475.5 531.0V538.5 M488.6 530.2V538.5 M495.2 531.8V538.5 M508.3 531.8V538.5 M514.9 531.0V538.5 M521.5 532.7V538.5 M534.6 532.7V538.5 M547.8 533.5V538.5 M574.1 532.7V538.5 M580.6 533.5V538.5 M593.8 533.5V538.5 M600.4 532.3V538.5 M606.9 532.7V538.5 M626.7 531.8V538.5 M633.2 532.3V538.5 M639.8 529.3V538.5 M646.4 533.5V538.5 M652.9 532.7V538.5 M659.5 532.3V538.5 M692.4 531.8V538.5 M705.5 533.5V538.5 M718.7 534.0V538.5 M725.2 535.2V538.5 M731.8 536.0V538.5 M738.4 534.3V538.5 M745.0 527.7V538.5 M751.5 530.2V538.5 M758.1 529.3V538.5 M764.7 530.2V538.5 M771.3 531.8V538.5 M777.8 531.3V538.5 M797.5 533.5V538.5 M817.3 533.5V538.5 M830.4 532.3V538.5 M837.0 534.3V538.5 M850.1 534.3V538.5 M856.7 531.0V538.5 M863.3 528.0V538.5 M869.9 528.0V538.5 M883.0 530.7V538.5 M889.6 529.0V538.5 M896.1 530.2V538.5 M915.9 526.0V538.5 M929.0 531.0V538.5 M935.6 529.3V538.5 M948.7 533.5V538.5 M961.9 531.8V538.5 M988.2 525.7V538.5 M1027.6 531.0V538.5 M1040.8 533.5V538.5 M1047.3 530.2V538.5 M1060.5 535.2V538.5 M1093.3 531.8V538.5 M1106.5 535.7V538.5 M1113.1 534.3V538.5 M1126.2 536.0V538.5 M1145.9 534.3V538.5" stroke="#157a20" stroke-width="1.7" fill="none"/>
<path d="M51.5 133.25H1148" stroke="#3030d4" stroke-width="1.1" fill="none"/>
<path d="M51.5 182.4H1148" stroke="#262692" stroke-width="1.15" fill="none"/>
<path d="M22 476.5H36.5M22 552.5H36.5" stroke="#e3222e" stroke-width="1.5"/>
<text transform="translate(44.5,480.0) scale(0.9,1)" font-size="10.5" text-anchor="start" fill="#151515">ОГК-2 ао [Price]</text>
<text transform="translate(44.5,556.0) scale(0.9,1)" font-size="10.5" text-anchor="start" fill="#151515">ОГК-2 ао [Volume]</text>
<path d="M51.5 562.5H1150M51.5 574.5H1150M51.5 587.5H1150M51.5 562V588 M101.5 562.5V574.5 M140.5 562.5V574.5 M206.5 562.5V574.5 M272.5 562.5V574.5 M337.5 562.5V574.5 M397.5 562.5V574.5 M456.5 562.5V574.5 M521.5 562.5V574.5 M587.5 562.5V574.5 M646.5 562.5V574.5 M706.5 562.5V574.5 M771.5 562.5V574.5 M830.5 562.5V574.5 M890.5 562.5V574.5 M949.5 562.5V574.5 M1014.5 562.5V574.5 M1080.5 562.5V574.5 M1146.5 562.5V574.5 M107.5 574.5V587.5 M239.5 574.5V587.5 M364.5 574.5V587.5 M502.5 574.5V587.5 M646.5 574.5V587.5 M771.5 574.5V587.5 M903.5 574.5V587.5 M1047.5 574.5V587.5" stroke="#5a2222" stroke-width="1" fill="none" shape-rendering="crispEdges"/>
<text transform="translate(104.8,571.5) scale(0.9,1)" font-size="10.5" text-anchor="start" fill="#151515">30</text>
<text transform="translate(144.2,571.5) scale(0.9,1)" font-size="10.5" text-anchor="start" fill="#151515">13</text>
<text transform="translate(210.0,571.5) scale(0.9,1)" font-size="10.5" text-anchor="start" fill="#151515">27</text>
<text transform="translate(275.7,571.5) scale(0.9,1)" font-size="10.5" text-anchor="start" fill="#151515">10</text>
<text transform="translate(341.4,571.5) scale(0.9,1)" font-size="10.5" text-anchor="start" fill="#151515">25</text>
<text transform="translate(400.6,571.5) scale(0.9,1)" font-size="10.5" text-anchor="start" fill="#151515">10</text>
<text transform="translate(459.8,571.5) scale(0.9,1)" font-size="10.5" text-anchor="start" fill="#151515">23</text>
<text transform="translate(525.5,571.5) scale(0.9,1)" font-size="10.5" text-anchor="start" fill="#151515">6</text>
<text transform="translate(591.2,571.5) scale(0.9,1)" font-size="10.5" text-anchor="start" fill="#151515">20</text>
<text transform="translate(650.4,571.5) scale(0.9,1)" font-size="10.5" text-anchor="start" fill="#151515">4</text>
<text transform="translate(709.5,571.5) scale(0.9,1)" font-size="10.5" text-anchor="start" fill="#151515">18</text>
<text transform="translate(775.3,571.5) scale(0.9,1)" font-size="10.5" text-anchor="start" fill="#151515">1</text>
<text transform="translate(834.4,571.5) scale(0.9,1)" font-size="10.5" text-anchor="start" fill="#151515">15</text>
<text transform="translate(893.6,571.5) scale(0.9,1)" font-size="10.5" text-anchor="start" fill="#151515">29</text>
<text transform="translate(952.7,571.5) scale(0.9,1)" font-size="10.5" text-anchor="start" fill="#151515">13</text>
<text transform="translate(1018.5,571.5) scale(0.9,1)" font-size="10.5" text-anchor="start" fill="#151515">27</text>
<text transform="translate(1084.2,571.5) scale(0.9,1)" font-size="10.5" text-anchor="start" fill="#151515">10</text>
<text transform="translate(1150.0,571.5) scale(0.9,1)" font-size="10.5" text-anchor="start" fill="#151515">24</text>
<text transform="translate(111.4,584.5) scale(0.9,1)" font-size="10.5" text-anchor="start" fill="#151515">2020</text>
<text transform="translate(242.8,584.5) scale(0.9,1)" font-size="10.5" text-anchor="start" fill="#151515">Feb</text>
<text transform="translate(367.7,584.5) scale(0.9,1)" font-size="10.5" text-anchor="start" fill="#151515">Mar</text>
<text transform="translate(505.8,584.5) scale(0.9,1)" font-size="10.5" text-anchor="start" fill="#151515">Apr</text>
<text transform="translate(650.4,584.5) scale(0.9,1)" font-size="10.5" text-anchor="start" fill="#151515">May</text>
<text transform="translate(775.3,584.5) scale(0.9,1)" font-size="10.5" text-anchor="start" fill="#151515">Jun</text>
<text transform="translate(906.7,584.5) scale(0.9,1)" font-size="10.5" text-anchor="start" fill="#151515">Jul</text>
<text transform="translate(1051.3,584.5) scale(0.9,1)" font-size="10.5" text-anchor="start" fill="#151515">Aug</text>
<rect x="1156.5" y="129.5" width="31.5" height="11.5" fill="#fff" stroke="#6a1f2a" stroke-width="1"/>
<text transform="translate(1181.5,138.5) scale(0.9,1)" font-size="10.5" text-anchor="start" fill="#d02030">0</text>
<rect x="1156.5" y="128" width="24.5" height="10.5" fill="#1818e0"/>
<text transform="translate(1157.5,137.0) scale(0.9,1)" font-size="10.5" text-anchor="start" fill="#fff">0,773</text>
<rect x="1155.5" y="529.5" width="33" height="12" fill="#fff" stroke="#5a1a1a" stroke-width="1"/>
<text transform="translate(1158.0,539.7) scale(0.9,1)" font-size="10.5" text-anchor="start" fill="#e02838">97 503</text>
<path d="M1141.9 129.4L1155.4 92.9L1152.4 90.8L1160.2 85.8L1162 94.8L1158.8 94.2L1144 130.3Z" fill="#9bbb59" opacity="0.88"/>
<text x="134.5" y="14.8" font-size="11.3" textLength="507.5" lengthAdjust="spacingAndGlyphs" fill="#151515">Информационно-торговая система QUIK (версия 8.7.1.3) - [ОГК-2 ао График цены и объёма - [Дневной]]</text>
<text x="26.8" y="32.6" font-size="11.3" textLength="40.7" lengthAdjust="spacingAndGlyphs" fill="#151515">Система</text>
<text x="80.5" y="32.6" font-size="11.3" textLength="63.3" lengthAdjust="spacingAndGlyphs" fill="#151515">Создать окно</text>
<text x="156.3" y="32.6" font-size="11.3" textLength="44.7" lengthAdjust="spacingAndGlyphs" fill="#151515">Действия</text>
<text x="213.8" y="32.6" font-size="11.3" textLength="35.0" lengthAdjust="spacingAndGlyphs" fill="#151515">Брокер</text>
<text x="261.2" y="32.6" font-size="11.3" textLength="60.8" lengthAdjust="spacingAndGlyphs" fill="#151515">Расширения</text>
<text x="335.5" y="32.6" font-size="11.3" textLength="42.0" lengthAdjust="spacingAndGlyphs" fill="#151515">Сервисы</text>
<text x="390.5" y="32.6" font-size="11.3" textLength="23.3" lengthAdjust="spacingAndGlyphs" fill="#151515">Окна</text>
</svg><!-- scrollbar -->
<div class="abs" style="left:0;top:588px;width:1200px;height:13px;background:#f0f0f0"></div>
<div class="abs" style="left:1120px;top:590px;width:65px;height:10px;background:#cdcdcd"></div>
<svg class="abs" style="left:0;top:588px" width="1200" height="13" viewBox="0 0 1200 13" fill="none" stroke="#444" stroke-width="1.6"><path d="M9.5 3.5L6 7L9.5 10.5"/><path d="M1191 3.5L1194.5 7L1191 10.5"/></svg>
<!-- tabs -->
<div class="abs" style="left:0;top:601px;width:1200px;height:20px;background:#f0f0f0"></div>
<div class="tab" style="left:2px;width:52px;border-left:1px solid #fafafa"></div>
<div class="tab" style="left:54px;width:40px;top:600px;height:21px;background:#fff;border:1px solid #e4e4e4;border-bottom:none;line-height:17px;font-size:12px"></div>
<div class="tab" style="left:94px;width:45px"></div>
<div class="tab" style="left:139px;width:87px"></div>
<div class="tab" style="left:226px;width:77px"></div>
<div class="tab" style="left:303px;width:47px"></div>
<div class="tab" style="left:350px;width:65px"></div>
<!-- status bar -->
<div class="abs" style="left:0;top:620px;width:1200px;height:20px;background:#f0f0f0;border-top:1px solid #e2e2e2;box-sizing:border-box"></div>
<div class="sdiv" style="left:860px"></div><div class="sdiv" style="left:983px"></div><div class="sdiv" style="left:1055px"></div><div class="sdiv" style="left:1077px"></div><div class="sdiv" style="left:1098px"></div>
<svg class="abs" style="left:862px;top:622px" width="16" height="16" viewBox="0 0 16 16"><rect x="1" y="1.5" width="7" height="5" fill="#6fb0e0" stroke="#2a4a6a" stroke-width="0.8"/><rect x="2.5" y="7" width="4" height="1.2" fill="#2a4a6a"/><rect x="5" y="8.5" width="7" height="5" fill="#6fb0e0" stroke="#2a4a6a" stroke-width="0.8"/><rect x="6.5" y="14" width="4" height="1.2" fill="#2a4a6a"/><path d="M9 4H13V8M3 10V12H5" fill="none" stroke="#333" stroke-width="0.9"/></svg>
<div class="abs" style="left:1105px;top:625px;width:10px;height:10px;border-radius:5px;background:#1fd11f;box-shadow:0 0 1px #0a0"></div>

<svg width="1200" height="52" viewBox="0 588 1200 52" style="position:absolute;left:0;top:588px;will-change:transform;opacity:0.999" font-family="Liberation Sans, sans-serif">
<text x="6.6" y="616" font-size="11.3" textLength="43.4" lengthAdjust="spacingAndGlyphs" fill="#151515">Портфель</text>
<text x="61" y="614.6" font-size="11.3" textLength="27" lengthAdjust="spacingAndGlyphs" fill="#151515">ТОрги</text>
<text x="97.6" y="616" font-size="11.3" textLength="37.4" lengthAdjust="spacingAndGlyphs" fill="#151515">Графики</text>
<text x="145" y="616" font-size="11.3" textLength="75" lengthAdjust="spacingAndGlyphs" fill="#151515">Валютный рынок</text>
<text x="230" y="616" font-size="11.3" textLength="68.5" lengthAdjust="spacingAndGlyphs" fill="#151515">Срочный рынок</text>
<text x="308" y="616" font-size="11.3" textLength="38" lengthAdjust="spacingAndGlyphs" fill="#151515">Новости</text>
<text x="354.5" y="616" font-size="11.3" textLength="56.5" lengthAdjust="spacingAndGlyphs" fill="#151515">Оповещения</text>
<text x="2.8" y="634" font-size="11.3" textLength="313" lengthAdjust="spacingAndGlyphs" fill="#151515">Время сервера: 20:14:48; последняя полученная запись: 21780345</text>
<text x="881" y="634" font-size="11.3" textLength="89" lengthAdjust="spacingAndGlyphs" fill="#151515">194.54.14.224:15100</text>
<text x="1120.7" y="634" font-size="11.3" textLength="47" lengthAdjust="spacingAndGlyphs" fill="#151515">24.08.2020</text>
</svg></body></html>
